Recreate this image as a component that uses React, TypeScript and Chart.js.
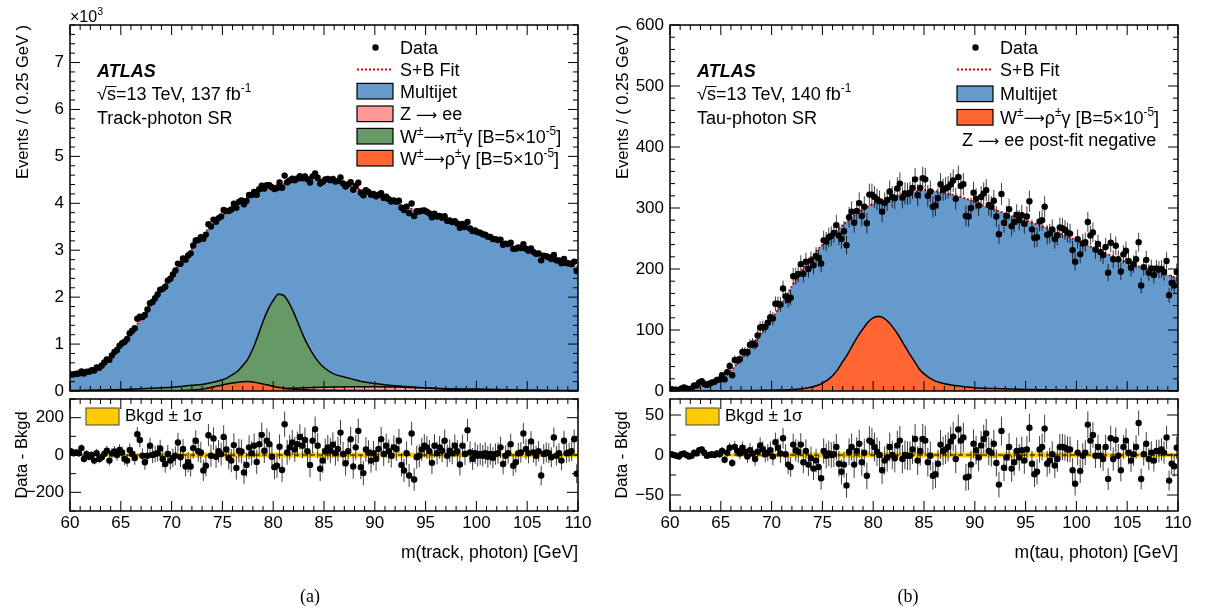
import React, { useEffect, useRef } from "react";
import { Chart, registerables } from "chart.js";

Chart.register(...registerables);

const SANS = '"Liberation Sans", Arial, Helvetica, sans-serif';
const SERIF = '"Liberation Serif", "Times New Roman", serif';
const ARROW_FONT = '"DejaVu Sans", "Liberation Sans", sans-serif';

const BLUE = "rgb(102,153,204)";
const GREEN = "rgb(102,153,102)";
const ORANGE = "rgb(255,102,51)";
const PINK = "rgb(255,153,153)";
const GOLD = "rgb(255,204,0)";
const FIT_RED = "rgb(225,0,0)";

// ---- binning ----
const MASS_MIN = 60;
const MASS_MAX = 110;
const BIN_WIDTH = 0.25;

// ---- fit / multijet background nodes (GeV) ----
const FIT_MASS = [
  60, 61, 62, 63, 64, 65, 66, 67, 68, 69, 70, 71, 72, 73, 74, 75, 76, 77, 78, 79, 80, 81, 82, 83, 84, 85,
  86, 87, 88, 89, 90, 91, 92, 93, 94, 95, 96, 97, 98, 99, 100, 101, 102, 103, 104, 105, 106, 107, 108, 109, 110,
];
const FIT_A = [
  330, 370, 430, 530, 720, 970, 1240, 1540, 1860, 2160, 2460, 2760, 3030, 3300, 3540, 3740, 3920, 4060, 4180, 4280,
  4360, 4420, 4460, 4490, 4500, 4490, 4460, 4410, 4340, 4260, 4180, 4100, 4010, 3930, 3850, 3790, 3720, 3640, 3560,
  3480, 3400, 3310, 3220, 3130, 3060, 2990, 2920, 2850, 2780, 2710, 2650,
];
const FIT_B = [
  2, 3, 5, 8, 12, 19, 34, 52, 73, 95, 118, 143, 172, 198, 221, 240, 256, 272, 286, 298, 307, 314, 319, 323, 327, 329,
  328, 325, 321, 316, 310, 303, 297, 291, 285, 280, 274, 268, 261, 254, 247, 240, 232, 225, 218, 211, 205, 200, 195,
  190, 185,
];

// ---- data (events per 0.25 GeV bin) ----
const DATA_A = [
  354, 355, 369, 374, 415, 371, 413, 412, 442, 438, 502, 497, 542, 606, 672, 666, 759, 833, 876, 966,
  1018, 1050, 1109, 1233, 1283, 1336, 1539, 1582, 1576, 1621, 1736, 1870, 1898, 1977, 2058, 2157, 2177, 2224, 2353, 2392,
  2482, 2568, 2715, 2710, 2826, 2799, 2890, 2934, 3101, 3207, 3219, 3280, 3247, 3333, 3556, 3506, 3653, 3606, 3685, 3720,
  3859, 3838, 3836, 3868, 3991, 3903, 4031, 4061, 3981, 4052, 4176, 4175, 4242, 4181, 4300, 4376, 4313, 4386, 4388, 4341,
  4303, 4325, 4442, 4332, 4590, 4449, 4486, 4522, 4494, 4529, 4576, 4536, 4571, 4514, 4443, 4575, 4637, 4546, 4420, 4461,
  4506, 4520, 4494, 4519, 4464, 4473, 4549, 4421, 4357, 4404, 4451, 4287, 4371, 4439, 4225, 4173, 4280, 4244, 4180, 4200,
  4149, 4182, 4215, 4115, 4139, 4086, 4040, 4062, 4032, 4056, 3907, 3857, 3930, 3790, 3995, 3729, 3830, 3824, 3842, 3848,
  3822, 3784, 3704, 3779, 3720, 3731, 3693, 3726, 3626, 3633, 3600, 3620, 3570, 3479, 3560, 3495, 3603, 3464, 3409, 3420,
  3385, 3371, 3340, 3331, 3289, 3281, 3239, 3236, 3219, 3227, 3116, 3137, 3131, 3162, 3029, 3030, 3061, 3048, 3131, 3031,
  2991, 3037, 2960, 2925, 2931, 2784, 2881, 2873, 2851, 2812, 2900, 2785, 2781, 2724, 2812, 2729, 2716, 2708, 2757, 2558,
];
const RESID_A = [
  19, 10, 14, 9, 37, -21, 5, -10, 0, -30, 10, -21, -12, 5, 23, -30, 8, 19, 0, 27,
  14, -21, -30, 27, 5, -16, 111, 80, -4, -39, -4, 50, 0, 5, 10, 35, -21, -48, 5, -30,
  -16, -4, 67, -12, 32, -62, -39, -62, 37, 76, 20, 14, -83, -57, 106, -4, 88, -9, 20, 5,
  97, 30, -16, -30, 53, -69, 23, 19, -94, -53, 41, 10, 50, -37, 58, 108, 23, 76, 58, -9,
  -65, -57, 44, -80, 165, 14, 41, 67, 30, 58, 97, 50, 80, 20, -53, 76, 138, 50, -74, -30,
  20, 41, 23, 55, 10, 32, 120, 5, -44, 20, 85, -62, 41, 129, -65, -97, 30, 14, -30, 10,
  -21, 32, 85, 5, 50, 20, -4, 41, 32, 76, -53, -83, 10, -110, 115, -131, -12, -4, 30, 50,
  41, 20, -42, 50, 10, 41, 23, 76, -4, 23, 10, 50, 20, -51, 50, 5, 133, 14, -21, 10,
  -4, 5, -4, 10, -10, 5, -15, 5, 10, 41, -48, -4, 10, 58, -57, -39, 10, 14, 115, 32,
  10, 73, 14, -4, 20, -110, 5, 14, 10, -12, 94, -4, 10, -30, 76, 10, 14, 20, 85, -100,
];
const DATA_B = [
  3, 2, 2, 1, 4, 6, 4, 3, 4, 9, 9, 14, 16, 12, 10, 12, 14, 15, 18, 19,
  26, 19, 31, 41, 26, 51, 50, 52, 64, 64, 63, 76, 78, 76, 91, 104, 105, 105, 112, 121,
  119, 143, 143, 142, 168, 155, 149, 153, 188, 188, 192, 208, 192, 212, 200, 214, 206, 221, 218, 209,
  247, 245, 252, 254, 259, 272, 255, 249, 262, 239, 285, 294, 276, 295, 308, 287, 302, 275, 322, 322,
  318, 314, 311, 294, 308, 313, 327, 318, 316, 332, 340, 317, 324, 323, 325, 333, 347, 321, 333, 349,
  347, 320, 327, 302, 304, 316, 339, 330, 332, 334, 339, 345, 315, 351, 336, 339, 287, 286, 300, 325,
  315, 304, 318, 324, 329, 305, 302, 312, 286, 257, 323, 276, 287, 298, 270, 277, 289, 280, 288, 274,
  286, 311, 265, 251, 252, 278, 280, 302, 256, 258, 265, 249, 255, 268, 267, 264, 260, 258, 231, 212,
  249, 224, 242, 244, 277, 255, 260, 232, 241, 228, 223, 236, 194, 243, 216, 238, 216, 196, 224, 230,
  213, 202, 208, 216, 244, 173, 203, 215, 194, 201, 190, 201, 199, 200, 195, 213, 157, 177, 173, 195,
];
const RESID_B = [
  1, 0, -1, -2, 1, 2, 0, -2, -1, 3, 2, 6, 7, 3, -1, 0, 1, 0, 2, 1,
  5, -6, 3, 9, -10, 10, 5, 2, 9, 4, -2, 6, 2, -5, 4, 12, 7, 1, 3, 6,
  -2, 16, 9, 2, 21, 1, -12, -15, 13, 6, 4, 13, -9, 5, -12, -4, -17, -7, -15, -29,
  5, -1, 2, 0, 1, 10, -11, -21, -12, -38, 4, 10, -12, 5, 14, -9, 3, -26, 18, 16,
  10, 4, 0, -19, -7, -3, 10, 0, -4, 12, 18, -5, 0, -1, -1, 7, 20, -7, 5, 20,
  18, -9, -1, -26, -24, -11, 13, 5, 7, 10, 17, 23, -5, 32, 18, 22, -28, -27, -12, 14,
  6, -3, 12, 20, 27, 5, 3, 14, -10, -37, 30, -16, -3, 10, -17, -9, 5, -3, 6, -7,
  7, 34, -11, -24, -21, 7, 10, 33, -11, -7, 1, -13, -5, 10, 10, 9, 7, 7, -19, -36,
  3, -20, -1, 3, 38, 18, 25, -1, 10, -1, -5, 10, -30, 21, -5, 19, -1, -19, 10, 18,
  3, -7, 1, 10, 40, -30, 1, 14, -5, 3, -7, 5, 5, 7, 3, 22, -32, -11, -14, 9,
];

// ---- signal templates ----
const PI_MASS_A = [
  60, 65, 68, 70, 72, 73, 74, 75, 75.5, 76, 76.5, 77, 77.5, 78, 78.5, 79, 79.5, 80, 80.5, 81,
  81.5, 82, 82.5, 83, 83.5, 84, 84.5, 85, 86, 87, 88, 89, 90, 92, 94, 97, 100, 105, 110,
];
const PI_A = [
  10, 30, 60, 80, 120, 140, 180, 240, 280, 350, 420, 540, 680, 900, 1180, 1480, 1740, 1930, 2060, 2040,
  1900, 1680, 1420, 1160, 940, 760, 610, 500, 360, 300, 240, 190, 160, 110, 80, 50, 40, 20, 10,
];
const RHO_MASS_A = [60, 70, 71, 72, 73, 74, 75, 76, 77, 77.5, 78, 79, 80, 81, 82, 83, 85, 88, 95, 110];
const RHO_A = [0, 5, 10, 20, 40, 80, 130, 170, 197, 202, 192, 150, 100, 60, 40, 25, 15, 8, 4, 1];
const ZEE_MASS_A = [60, 75, 78, 80, 82, 84, 86, 88, 90, 92, 94, 96, 98, 100, 103, 110];
const ZEE_A = [0, 0, 20, 40, 60, 75, 85, 90, 90, 85, 70, 50, 30, 15, 5, 0];
const RHO_MASS_B = [
  60, 65.5, 68.5, 70.5, 72.5, 73.5, 74.5, 75.5, 76, 76.5, 77, 77.5, 78, 78.5, 79, 79.5, 80, 80.5, 81,
  81.5, 82, 82.5, 83, 83.5, 84, 84.5, 85, 86, 87, 88, 89, 90, 92, 95, 100, 105, 110,
];
const RHO_B = [
  0, 0.5, 1, 1.5, 3, 5, 9, 18, 25, 35, 48, 61, 76, 90, 102, 113, 120, 122, 120,
  113, 103, 91, 77, 63, 50, 37, 28, 17, 12, 9, 7, 5.5, 4, 2.5, 1.5, 1, 0.5,
];

// ---- background uncertainty band (half width) ----
const BAND_MASS = [60, 62, 64, 66, 70, 75, 80, 85, 90, 95, 100, 105, 110];
const BAND_A = [3, 5, 8, 10, 12, 13, 13, 13, 13, 13, 12, 12, 12];
const BAND_B = [0.3, 0.6, 1.2, 2, 2.7, 3, 3.1, 3.1, 3.1, 3, 2.9, 2.8, 2.8];

// ---- ticks ----
const X_TICKS = [60, 65, 70, 75, 80, 85, 90, 95, 100, 105, 110];
const MAIN_Y_TICKS_A = [0, 1000, 2000, 3000, 4000, 5000, 6000, 7000];
const MAIN_Y_TICKS_B = [0, 100, 200, 300, 400, 500, 600];
const RESID_Y_TICKS_A = [-200, 0, 200];
const RESID_Y_TICKS_B = [-50, 0, 50];

const points = (xs: number[], ys: number[]) => xs.map((x, i) => ({ x, y: ys[i] }));
const binCentres = (n: number) => Array.from({ length: n }, (_, i) => MASS_MIN + BIN_WIDTH * (i + 0.5));
const minusSign = (v: number) => String(v).replace("-", "\u2212");

// segment: [text, superscript?, arrow?]
type Seg = [string, boolean?, boolean?];

function drawRich(ctx: any, segs: Seg[], x: number, y: number, size: number, style = "") {
  let cx = x;
  for (const [t, sup, arrow] of segs) {
    if (arrow) {
      const s = size * 0.82;
      ctx.font = `${s}px ${ARROW_FONT}`;
      ctx.fillText(t, cx, y - size * 0.02);
      cx += ctx.measureText(t).width;
      continue;
    }
    const s = sup ? size * 0.66 : size;
    ctx.font = `${style} ${s}px ${SANS}`;
    ctx.fillText(t, cx, sup ? y - size * 0.42 : y);
    cx += ctx.measureText(t).width;
  }
  return cx;
}

const ARROW: Seg = ["\u27f6", false, true];
const W_PI: Seg[] = [["W"], ["\u00b1", true], ARROW, ["\u03c0"], ["\u00b1", true], ["\u03b3 [B=5\u00d710"], ["-5", true], ["]"]];
const W_RHO: Seg[] = [["W"], ["\u00b1", true], ARROW, ["\u03c1"], ["\u00b1", true], ["\u03b3 [B=5\u00d710"], ["-5", true], ["]"]];
const Z_EE: Seg[] = [["Z "], ARROW, [" ee"]];

const errorBarsPlugin = {
  id: "errorBars",
  afterDatasetsDraw(chart: any) {
    const { ctx, chartArea: a, scales } = chart;
    ctx.save();
    ctx.beginPath();
    ctx.rect(a.left, a.top, a.right - a.left, a.bottom - a.top);
    ctx.clip();
    ctx.strokeStyle = "rgba(0,0,0,0.75)";
    ctx.lineWidth = 1;
    chart.data.datasets.forEach((ds: any) => {
      if (!ds.errors) return;
      ctx.beginPath();
      ds.data.forEach((p: any, i: number) => {
        const e = ds.errors[i];
        const px = scales.x.getPixelForValue(p.x);
        ctx.moveTo(px, scales.y.getPixelForValue(p.y - e));
        ctx.lineTo(px, scales.y.getPixelForValue(p.y + e));
      });
      ctx.stroke();
    });
    ctx.restore();
  },
};

function frameTicks(cfg: any) {
  return {
    id: "frameTicks",
    afterDraw(chart: any) {
      const { ctx, chartArea: a, scales } = chart;
      const xs = scales.x;
      const ys = scales.y;
      const isMajor = (v: number, step: number) => Math.abs(v / step - Math.round(v / step)) < 1e-6;
      ctx.save();
      ctx.strokeStyle = "#000";
      ctx.lineWidth = 1;
      ctx.beginPath();
      const nx = Math.round((xs.max - xs.min) / cfg.xMinor);
      for (let k = 0; k <= nx; k++) {
        const v = xs.min + k * cfg.xMinor;
        const px = xs.getPixelForValue(v);
        const L = isMajor(v, cfg.xMajor) ? cfg.xMajorLen : cfg.xMinorLen;
        ctx.moveTo(px, a.bottom);
        ctx.lineTo(px, a.bottom - L);
        ctx.moveTo(px, a.top);
        ctx.lineTo(px, a.top + L);
      }
      const y0 = Math.ceil(ys.min / cfg.yMinor - 1e-9) * cfg.yMinor;
      const ny = Math.floor((ys.max - y0) / cfg.yMinor + 1e-9);
      for (let k = 0; k <= ny; k++) {
        const v = y0 + k * cfg.yMinor;
        const py = ys.getPixelForValue(v);
        const L = isMajor(v, cfg.yMajor) ? cfg.yMajorLen : cfg.yMinorLen;
        ctx.moveTo(a.left, py);
        ctx.lineTo(a.left + L, py);
        ctx.moveTo(a.right, py);
        ctx.lineTo(a.right - L, py);
      }
      ctx.stroke();
      ctx.lineWidth = 1.5;
      ctx.strokeRect(a.left, a.top, a.right - a.left, a.bottom - a.top);
      ctx.restore();
    },
  };
}

function mainDecor(p: any) {
  return {
    id: "mainDecor",
    afterDraw(chart: any) {
      const ctx = chart.ctx;
      ctx.save();
      ctx.fillStyle = "#000";
      ctx.strokeStyle = "#000";
      // y title
      ctx.save();
      ctx.translate(23, 25);
      ctx.rotate(-Math.PI / 2);
      ctx.textAlign = "right";
      ctx.textBaseline = "middle";
      ctx.font = `16.5px ${SANS}`;
      ctx.fillText("Events / ( 0.25 GeV )", 0, 0);
      ctx.restore();
      ctx.textAlign = "left";
      ctx.textBaseline = "alphabetic";
      if (p.exponent) drawRich(ctx, [["\u00d710"], ["3", true]], 70, 22, 16);
      // ATLAS label block
      ctx.font = `italic bold 18px ${SANS}`;
      ctx.fillText("ATLAS", 97, 77);
      ctx.font = `18px ${SANS}`;
      const x0 = 97;
      const yb = 100;
      ctx.fillText("\u221a", x0, yb);
      const wr = ctx.measureText("\u221a").width;
      ctx.fillText("s", x0 + wr, yb);
      const ws = ctx.measureText("s").width;
      ctx.lineWidth = 1;
      ctx.beginPath();
      ctx.moveTo(x0 + wr - 0.5, yb - 13.5);
      ctx.lineTo(x0 + wr + ws + 0.5, yb - 13.5);
      ctx.stroke();
      drawRich(ctx, [[`=13 TeV, ${p.lumi} fb`], ["-1", true]], x0 + wr + ws, yb, 18);
      ctx.font = `18px ${SANS}`;
      ctx.fillText(p.region, 97, 124);
      // legend
      for (const row of p.legend) {
        const yc = row.y;
        if (row.kind === "dot") {
          ctx.beginPath();
          ctx.arc(375.5, yc, 3.2, 0, Math.PI * 2);
          ctx.fill();
        } else if (row.kind === "fit") {
          ctx.save();
          ctx.strokeStyle = FIT_RED;
          ctx.lineWidth = 2;
          ctx.setLineDash([2, 2]);
          ctx.beginPath();
          ctx.moveTo(357, yc);
          ctx.lineTo(393, yc);
          ctx.stroke();
          ctx.restore();
        } else if (row.kind === "box") {
          ctx.fillStyle = row.color;
          ctx.fillRect(357, yc - 7.8, 36, 15.6);
          ctx.fillStyle = "#000";
          ctx.lineWidth = 1.2;
          ctx.strokeRect(357, yc - 7.8, 36, 15.6);
        }
        drawRich(ctx, row.segs, row.x ?? 400, yc + 6.3, 18);
      }
      ctx.restore();
    },
  };
}

function residDecor(p: any) {
  return {
    id: "residDecor",
    afterDraw(chart: any) {
      const ctx = chart.ctx;
      ctx.save();
      ctx.fillStyle = "#000";
      ctx.save();
      ctx.translate(22, 74);
      ctx.rotate(-Math.PI / 2);
      ctx.textAlign = "center";
      ctx.textBaseline = "middle";
      ctx.font = `16.5px ${SANS}`;
      ctx.fillText("Data - Bkgd", 0, 0);
      ctx.restore();
      ctx.textBaseline = "middle";
      ctx.textAlign = "right";
      ctx.font = `17.5px ${SANS}`;
      ctx.fillText(p.xTitle, 578, 172);
      ctx.textAlign = "center";
      ctx.font = `18px ${SERIF}`;
      ctx.fillText(p.tag, p.tagX, 216);
      // legend
      ctx.fillStyle = GOLD;
      ctx.fillRect(86, 27, 33, 17);
      ctx.strokeStyle = "#444";
      ctx.lineWidth = 1;
      ctx.strokeRect(86, 27, 33, 17);
      ctx.fillStyle = "#000";
      ctx.textAlign = "left";
      ctx.font = `17px ${SANS}`;
      ctx.fillText("Bkgd \u00b1 1\u03c3", 125, 35.5);
      ctx.restore();
    },
  };
}

const baseOptions = {
  animation: false,
  responsive: false,
  maintainAspectRatio: false,
  events: [],
  plugins: { legend: { display: false }, tooltip: { enabled: false } },
};

const yTickFont = { family: SANS, size: 17 };

function mainConfig(p: any) {
  const centres = binCentres(p.data.length);
  const curve = (mass: number[], vals: number[], color: string, order: number, border: boolean) => ({
    data: points(mass, vals),
    backgroundColor: color,
    borderColor: border ? "#000" : "rgba(0,0,0,0)",
    borderWidth: border ? 1.5 : 0,
    fill: "origin",
    pointRadius: 0,
    cubicInterpolationMode: "monotone",
    order,
  });
  const datasets: any[] = [
    {
      label: "Data",
      data: points(centres, p.data),
      showLine: false,
      pointRadius: 3.2,
      pointBackgroundColor: "#000",
      pointBorderWidth: 0,
      errors: p.data.map((v: number) => Math.sqrt(v)),
      order: 0,
    },
    {
      label: "S+B Fit",
      data: points(FIT_MASS, p.fit),
      borderColor: FIT_RED,
      borderWidth: 2,
      borderDash: [2, 2],
      pointRadius: 0,
      fill: false,
      cubicInterpolationMode: "monotone",
      order: 1,
    },
    ...p.signals.map((s: any) => ({ label: s.label, ...curve(s.mass, s.values, s.color, s.order, true) })),
    { label: "Multijet", ...curve(FIT_MASS, p.fit, BLUE, 10, false) },
  ];
  return {
    type: "line",
    data: { datasets },
    options: {
      ...baseOptions,
      layout: { padding: { left: 0, right: 22, top: 25, bottom: 18 } },
      scales: {
        x: { type: "linear", min: MASS_MIN, max: MASS_MAX, display: false },
        y: {
          type: "linear",
          min: 0,
          max: p.yMax,
          grid: { display: false, drawTicks: false },
          border: { display: false },
          afterBuildTicks: (s: any) => {
            s.ticks = p.yTicks.map((v: number) => ({ value: v }));
          },
          ticks: { color: "#000", font: yTickFont, padding: 6, callback: p.yFmt },
          afterFit: (s: any) => {
            s.width = 70;
          },
        },
      },
    },
    plugins: [
      errorBarsPlugin,
      frameTicks({ xMinor: 1, xMajor: 5, xMajorLen: 10, xMinorLen: 5, yMinor: p.yMinor, yMajor: p.yMajor, yMajorLen: 10, yMinorLen: 5 }),
      mainDecor(p),
    ],
  };
}

function residConfig(p: any) {
  const centres = binCentres(p.resid.length);
  const datasets: any[] = [
    {
      label: "Data - Bkgd",
      data: points(centres, p.resid),
      showLine: false,
      pointRadius: 3.2,
      pointBackgroundColor: "#000",
      pointBorderWidth: 0,
      errors: p.data.map((v: number) => Math.sqrt(v)),
      order: 0,
    },
    {
      label: "zero",
      data: [
        { x: MASS_MIN, y: 0 },
        { x: MASS_MAX, y: 0 },
      ],
      borderColor: "#000",
      borderWidth: 1,
      borderDash: [5, 3],
      pointRadius: 0,
      fill: false,
      order: 1,
    },
    {
      label: "band up",
      data: points(BAND_MASS, p.band),
      borderWidth: 0,
      borderColor: "rgba(0,0,0,0)",
      backgroundColor: GOLD,
      pointRadius: 0,
      fill: "+1",
      cubicInterpolationMode: "monotone",
      order: 2,
    },
    {
      label: "band down",
      data: points(BAND_MASS, p.band.map((v: number) => -v)),
      borderWidth: 0,
      borderColor: "rgba(0,0,0,0)",
      pointRadius: 0,
      fill: false,
      cubicInterpolationMode: "monotone",
      order: 3,
    },
  ];
  return {
    type: "line",
    data: { datasets },
    options: {
      ...baseOptions,
      layout: { padding: { left: 0, right: 22, top: 18, bottom: 71 } },
      scales: {
        x: {
          type: "linear",
          min: MASS_MIN,
          max: MASS_MAX,
          grid: { display: false, drawTicks: false },
          border: { display: false },
          afterBuildTicks: (s: any) => {
            s.ticks = X_TICKS.map((v) => ({ value: v }));
          },
          ticks: { color: "#000", font: { family: SANS, size: 17 }, padding: 2, maxRotation: 0, autoSkip: false },
          afterFit: (s: any) => {
            s.height = 30;
          },
        },
        y: {
          type: "linear",
          min: -p.residRange,
          max: p.residRange,
          grid: { display: false, drawTicks: false },
          border: { display: false },
          afterBuildTicks: (s: any) => {
            s.ticks = p.residTicks.map((v: number) => ({ value: v }));
          },
          ticks: { color: "#000", font: yTickFont, padding: 6, callback: (v: number) => minusSign(v) },
          afterFit: (s: any) => {
            s.width = 70;
          },
        },
      },
    },
    plugins: [
      errorBarsPlugin,
      frameTicks({ xMinor: 1, xMajor: 5, xMajorLen: 10, xMinorLen: 5, yMinor: p.residMinor, yMajor: p.residMajor, yMajorLen: 11, yMinorLen: 6 }),
      residDecor(p),
    ],
  };
}

const PANEL_A = {
  left: 0,
  fit: FIT_A,
  data: DATA_A,
  resid: RESID_A,
  signals: [
    { label: "W->rho gamma", mass: RHO_MASS_A, values: RHO_A, color: ORANGE, order: 2 },
    { label: "Z->ee", mass: ZEE_MASS_A, values: ZEE_A, color: PINK, order: 3 },
    { label: "W->pi gamma", mass: PI_MASS_A, values: PI_A, color: GREEN, order: 4 },
  ],
  yMax: 7800,
  yTicks: MAIN_Y_TICKS_A,
  yFmt: (v: number) => String(v / 1000),
  yMinor: 200,
  yMajor: 1000,
  exponent: true,
  lumi: "137",
  region: "Track-photon SR",
  legend: [
    { kind: "dot", y: 47.5, segs: [["Data"]] },
    { kind: "fit", y: 69.5, segs: [["S+B Fit"]] },
    { kind: "box", y: 91.2, color: BLUE, segs: [["Multijet"]] },
    { kind: "box", y: 113.8, color: PINK, segs: Z_EE },
    { kind: "box", y: 136.2, color: GREEN, segs: W_PI },
    { kind: "box", y: 158.2, color: ORANGE, segs: W_RHO },
  ],
  residRange: 300,
  residTicks: RESID_Y_TICKS_A,
  residMinor: 100,
  residMajor: 200,
  band: BAND_A,
  xTitle: "m(track, photon) [GeV]",
  tag: "(a)",
  tagX: 310,
};

const PANEL_B = {
  left: 600,
  fit: FIT_B,
  data: DATA_B,
  resid: RESID_B,
  signals: [{ label: "W->rho gamma", mass: RHO_MASS_B, values: RHO_B, color: ORANGE, order: 2 }],
  yMax: 600,
  yTicks: MAIN_Y_TICKS_B,
  yFmt: (v: number) => String(v),
  yMinor: 20,
  yMajor: 100,
  exponent: false,
  lumi: "140",
  region: "Tau-photon SR",
  legend: [
    { kind: "dot", y: 47.5, segs: [["Data"]] },
    { kind: "fit", y: 69.5, segs: [["S+B Fit"]] },
    { kind: "box", y: 93.8, color: BLUE, segs: [["Multijet"]] },
    { kind: "box", y: 117.3, color: ORANGE, segs: W_RHO },
    { kind: "text", y: 140, x: 362, segs: [["Z "], ARROW, [" ee post-fit negative"]] },
  ],
  residRange: 70,
  residTicks: RESID_Y_TICKS_B,
  residMinor: 25,
  residMajor: 50,
  band: BAND_B,
  xTitle: "m(tau, photon) [GeV]",
  tag: "(b)",
  tagX: 308,
};

function ChartCanvas({ left, top, width, height, makeConfig }: any) {
  const ref = useRef<HTMLCanvasElement>(null);
  useEffect(() => {
    const chart = new Chart(ref.current as HTMLCanvasElement, makeConfig());
    return () => chart.destroy();
  }, []);
  return (
    <canvas
      ref={ref}
      width={width}
      height={height}
      style={{ position: "absolute", left, top, width, height }}
    />
  );
}

export default function App() {
  return (
    <div style={{ position: "fixed", left: 0, top: 0, width: 1205, height: 612, background: "#fff", overflow: "hidden" }}>
      {[PANEL_A, PANEL_B].map((p) => (
        <React.Fragment key={p.tag}>
          <ChartCanvas left={p.left} top={0} width={600} height={409} makeConfig={() => mainConfig(p)} />
          <ChartCanvas left={p.left} top={381} width={600} height={231} makeConfig={() => residConfig(p)} />
        </React.Fragment>
      ))}
    </div>
  );
}
